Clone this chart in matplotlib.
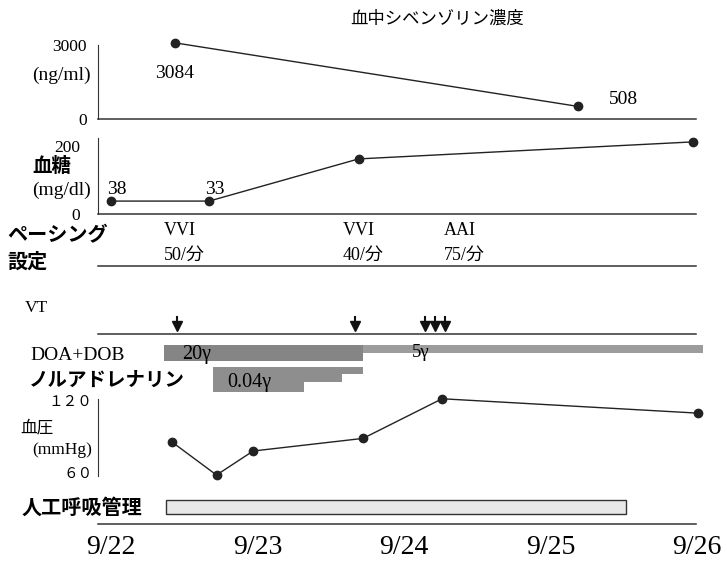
import matplotlib
matplotlib.use('Agg')
import matplotlib.pyplot as plt

plt.rcParams['font.family'] = ['Liberation Serif', 'Noto Sans CJK JP']
JP = ['Noto Sans CJK JP', 'Liberation Serif']

# 横軸: 9/22 を 0 とした日数
dates = ['9/22', '9/23', '9/24', '9/25', '9/26']
date_pos = [0, 1, 2, 3, 4]

# 血中シベンゾリン濃度 (ng/ml)
cib_x = [0.44, 3.19]
cib_y = [3084, 508]
cib_lbl = ['3084', '508']

# 血糖 (mg/dl)
bs_x = [0.0, 0.67, 1.69, 3.97]
bs_y = [38, 38, 162, 212]
bs_lbl = ['38', '33', '', '']

# ペーシング設定
pace_x = [0.36, 1.58, 2.27]
pace_mode = ['VVI', 'VVI', 'AAI']
pace_rate = ['50/分', '40/分', '75/分']

# VT
vt_x = [0.45, 1.665, 2.14, 2.21, 2.28]

# DOA+DOB
doa_start = [0.362, 1.72]
doa_end = [1.72, 4.04]
doa_h = [1.0, 0.5]
doa_lbl = ['20γ', '5γ']

# ノルアドレナリン
nad_start = [0.696, 1.317, 1.577]
nad_end = [1.317, 1.577, 1.72]
nad_h = [1.0, 0.6, 0.28]
nad_lbl = '0.04γ'

# 血圧 (mmHg)
bp_x = [0.416, 0.72, 0.97, 1.72, 2.26, 4.01]
bp_y = [85, 57.5, 77.5, 88, 121, 109]

# 人工呼吸管理
vent_start = 0.375
vent_end = 3.515

W, H = 727, 567
X0, X1 = 98, 703
XMIN, XMAX = -0.089, 4.041

fig = plt.figure(figsize=(W / 100, H / 100), dpi=100)


def panel(top, bottom):
    ax = fig.add_axes([X0 / W, 1 - bottom / H, (X1 - X0) / W, (bottom - top) / H])
    ax.set_xlim(XMIN, XMAX)
    for s in ['top', 'right', 'left', 'bottom']:
        ax.spines[s].set_visible(False)
    ax.set_xticks([])
    ax.set_yticks([])
    ax.patch.set_alpha(0)
    return ax


def hline(ax, y=0):
    ax.plot([XMIN, 3.99], [y, y], color='#333333', lw=1.1, clip_on=False)


def ftxt(x, y, s, ha='left', **kw):
    # 左側の見出し (図のピクセル位置)
    fig.text(x / W, 1 - y / H, s, ha=ha, va='center', **kw)


# 血中シベンゾリン濃度
ax = panel(45, 119)
ax.set_ylim(0, 3000)
ax.spines['left'].set_visible(True)
ax.spines['left'].set_color('#333333')
hline(ax)
ax.plot(cib_x, cib_y, color='#222222', lw=1, marker='o', ms=6, clip_on=False)
ax.annotate(cib_lbl[0], (cib_x[0], cib_y[0]), xytext=(-1, -22), textcoords='offset points',
            ha='center', va='center', fontsize=14, annotation_clip=False)
ax.annotate(cib_lbl[1], (cib_x[1], cib_y[1]), xytext=(22, 5), textcoords='offset points',
            ha='left', va='center', fontsize=14, annotation_clip=False)
ax.set_yticks([0, 3000])
ax.set_yticklabels(['0', '3000'], fontsize=12.5)
ax.tick_params(axis='y', length=0, pad=8)
ftxt(91, 75, '(ng/ml)', ha='right', fontsize=14)
ftxt(437, 19, '血中シベンゾリン濃度', ha='center', fontsize=12.5, family=JP)

# 血糖
ax = panel(138, 214)
ax.set_ylim(0, 223.5)
ax.spines['left'].set_visible(True)
ax.spines['left'].set_color('#333333')
hline(ax)
ax.plot(bs_x, bs_y, color='#222222', lw=1, marker='o', ms=6, clip_on=False)
for x, y, t in zip(bs_x, bs_y, bs_lbl):
    if t:
        ax.annotate(t, (x, y), xytext=(4, 8), textcoords='offset points', ha='center',
                    va='center', fontsize=14, annotation_clip=False)
ax.set_yticks([0, 200])
ax.set_yticklabels(['0', '200'], fontsize=12.5)
ax.tick_params(axis='y', length=0, pad=13)
ftxt(32, 166, '血糖', fontsize=14, family=JP, fontweight='bold')
ftxt(91, 190, '(mg/dl)', ha='right', fontsize=14)

# ペーシング設定
ax = panel(220, 266)
ax.set_ylim(0, 1)
hline(ax)
for x, m, r in zip(pace_x, pace_mode, pace_rate):
    ax.text(x, 0.78, m, ha='left', va='center', fontsize=13)
    ax.text(x, 0.24, r, ha='left', va='center', fontsize=13)
ftxt(7, 235, 'ペーシング', fontsize=14.5, family=JP, fontweight='bold')
ftxt(7, 261, '設定', fontsize=14.5, family=JP, fontweight='bold')

# VT
ax = panel(300, 334)
ax.set_ylim(0, 1)
hline(ax)
for x in vt_x:
    ax.plot([x, x], [0.3, 0.5], color='#111111', lw=1.5)
ax.plot(vt_x, [0.25] * len(vt_x), ls='none', marker='v', ms=7.5, color='#111111')
ftxt(25, 308, 'VT', fontsize=12.5)

# DOA+DOB
ax = panel(345, 361)
ax.set_ylim(0, 1)
for s, e, h, c in zip(doa_start, doa_end, doa_h, ['#858585', '#9c9c9c']):
    ax.bar(s, h, width=e - s, bottom=1 - h, align='edge', color=c, lw=0)
ax.text(doa_start[0] + 0.12, 0.4, doa_lbl[0], ha='left', va='center', fontsize=14.5)
ax.text(2.055, 0.55, doa_lbl[1], ha='left', va='center', fontsize=13.5)
ftxt(30, 355, 'DOA+DOB', fontsize=14)

# ノルアドレナリン
ax = panel(367, 392)
ax.set_ylim(0, 1)
for s, e, h in zip(nad_start, nad_end, nad_h):
    ax.bar(s, h, width=e - s, bottom=1 - h, align='edge', color='#8e8e8e', lw=0)
ax.text(nad_start[0] + 0.1, 0.4, nad_lbl, ha='left', va='center', fontsize=14.5)
ftxt(29, 380, 'ノルアドレナリン', fontsize=14, family=JP, fontweight='bold')

# 血圧
ax = panel(399, 476)
ax.set_ylim(56.7, 120.8)
ax.spines['left'].set_visible(True)
ax.spines['left'].set_color('#333333')
ax.plot(bp_x, bp_y, color='#222222', lw=1, marker='o', ms=6, clip_on=False)
ax.set_yticks([60, 120])
ax.set_yticklabels(['６０', '１２０'], fontsize=10.5, family=JP)
ax.tick_params(axis='y', length=0, pad=4)
ftxt(20, 428, '血圧', fontsize=12, family=JP)
ftxt(92, 450, '(mmHg)', ha='right', fontsize=12.5)

# 人工呼吸管理
ax = panel(495, 524)
ax.set_ylim(0, 1)
hline(ax)
ax.bar(vent_start, 0.48, width=vent_end - vent_start, bottom=0.34, align='edge',
       color='#e8e8e8', edgecolor='#333333', lw=1)
ftxt(22, 507, '人工呼吸管理', fontsize=14.5, family=JP, fontweight='bold')
ax.set_xticks(date_pos)
ax.set_xticklabels(dates, fontsize=20)
ax.tick_params(axis='x', length=0, pad=8)

fig.savefig('out.png', dpi=100)
